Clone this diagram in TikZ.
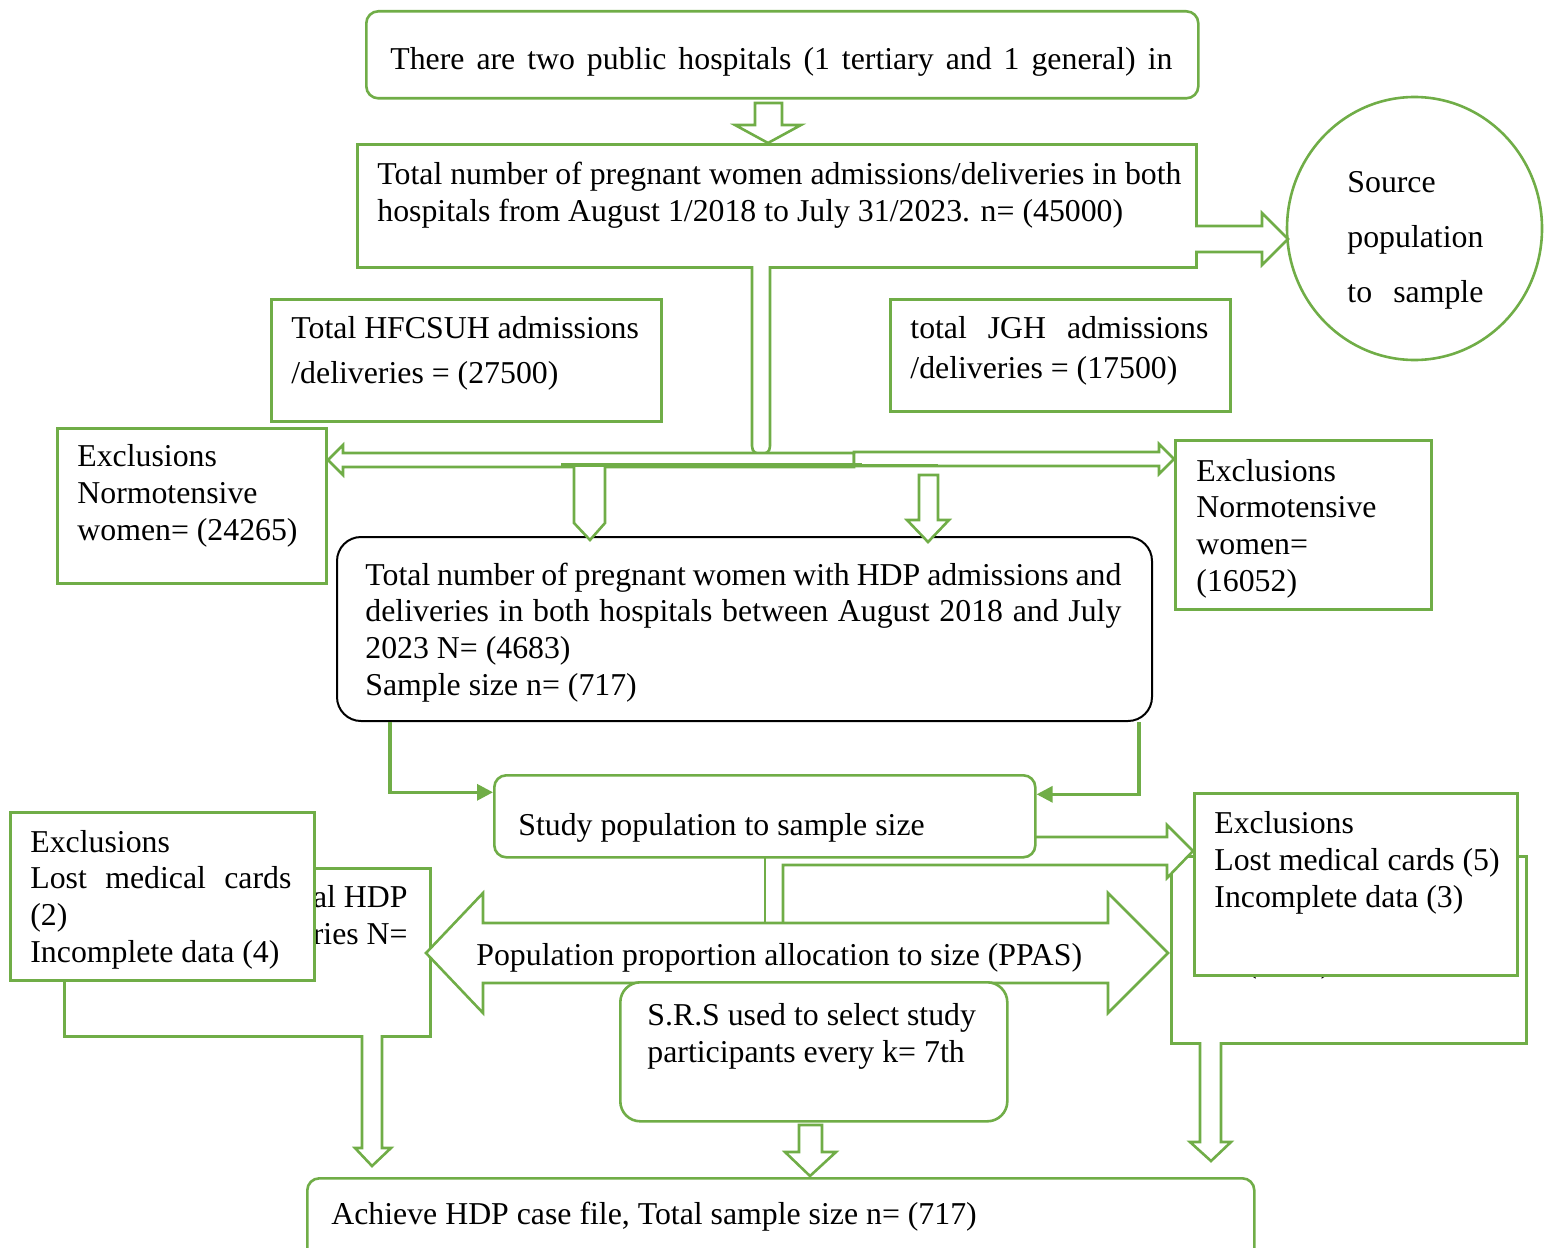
\documentclass[tikz,border=0pt]{standalone}
\usepackage{fontspec}
\setmainfont{Liberation Serif}
\usetikzlibrary{arrows.meta,shapes.geometric}
\definecolor{leaf}{HTML}{70AD47}
\tikzset{
	gbox/.style={draw=leaf, line width=1.3pt, fill=white, inner sep=0pt, anchor=north west},
	txt/.style={anchor=base west, inner sep=0pt, align=left},
	hollow/.style={draw=leaf, line width=1.3pt, fill=white, line join=miter},
	elbow/.style={draw=leaf, line width=1.6pt, -{Triangle[length=8pt,width=8pt]}},
}
\begin{document}
\begin{tikzpicture}[x=0.5pt,y=-0.5pt, font=\fontsize{15.9}{18.3}\selectfont]
	\useasboundingbox (0,0) rectangle (1551,1247);
	\node[gbox, rounded corners=6pt, minimum width=416pt, minimum height=43.5pt] (hosp) at (365,10) {};
	\node[txt] (hosptext) at (390,69) {\makebox[391pt][s]{There are two public hospitals (1 tertiary and 1 general) in}};
	\node[gbox, minimum width=419.5pt, minimum height=61.5pt] (total) at (356,143) {};
	\node[txt] (totaltext) at (377,221) {Total number of pregnant women admissions/deliveries in both\\hospitals from August 1/2018 to July 31/2023. n= (45000)};
	\node[ellipse, draw=leaf, line width=1.3pt, inner sep=0pt, minimum width=127.5pt, minimum height=131.5pt] (source) at (1414.5,228.5) {};
	\node[txt, font=\fontsize{15.9}{27.5}\selectfont] (sourcetext) at (1347,302) {Source\\population\\\makebox[68pt][s]{to sample}};
	\node[gbox, minimum width=195pt, minimum height=61pt] (hfc) at (270,298) {};
	\node[txt] (hfctext) at (291,383) {Total HFCSUH admissions\\[4.2pt]/deliveries = (27500)};
	\node[gbox, minimum width=170pt, minimum height=56pt] (jgh) at (889,298) {};
	\node[txt] (jghtext) at (910,378) {\makebox[149pt][s]{total JGH admissions}\\[1.7pt]/deliveries = (17500)};
	\node[gbox, minimum width=134.5pt, minimum height=77.5pt] (normL) at (56,427) {};
	\node[txt] (normLtext) at (77,540) {Exclusions\\Normotensive\\women= (24265)};
	\node[gbox, minimum width=128pt, minimum height=84.5pt] (normR) at (1174,439) {};
	\node[txt] (normRtext) at (1196,591) {Exclusions\\Normotensive\\women=\\(16052)};
	\node[gbox, draw=black, line width=1pt, rounded corners=12pt, minimum width=407.5pt, minimum height=92pt] (hdp) at (336,536) {};
	\node[txt] (hdptext) at (365,695) {\makebox[378pt][s]{Total number of pregnant women with HDP admissions and}\\\makebox[378pt][s]{deliveries in both hospitals between August 2018 and July}\\2023 N= (4683)\\Sample size n= (717)};
	\draw[hollow] (755,103) -- (782,103) -- (782,125) -- (801,125) -- (768,143) -- (735,125) -- (755,125) -- cycle;
	\draw[hollow] (1195,226) -- (1262,226) -- (1262,213) -- (1288,239) -- (1262,265) -- (1262,252) -- (1195,252);
	\draw[hollow] (752,266) -- (752,446) .. controls (752,452) and (756,454) .. (761,454) .. controls (766,454) and (770,452) .. (770,446) -- (770,266);
	\draw[hollow] (854,453) -- (343,453) -- (343,445) -- (328,460) -- (343,475) -- (343,467) -- (854,467) -- cycle;
	\draw[hollow] (854,452) -- (1159,452) -- (1159,444) -- (1174,459) -- (1159,474) -- (1159,466) -- (854,466) -- cycle;
	\draw[leaf, line width=2pt] (561,465) -- (862,465);
	\draw[leaf, line width=1pt] (862,465) -- (938,465);
	\draw[hollow] (574,467) -- (574,523) -- (590,540) -- (605,523) -- (605,467);
	\draw[hollow] (919,475) -- (938,475) -- (938,520) -- (949,520) -- (928,542) -- (907,520) -- (919,520) -- cycle;
	\node[gbox, minimum width=183pt, minimum height=84pt] (hfchdp) at (63,867) {};
	\node[txt, align=right, anchor=base east] (hfchdptext) at (408,944) {al HDP\\ries N=};
	\node[gbox, minimum width=152pt, minimum height=84pt] (lostL) at (9,811) {};
	\node[txt] (lostLtext) at (30,962) {Exclusions\\\makebox[130.5pt][s]{Lost medical cards}\\(2)\\Incomplete data (4)};
	\node[gbox, minimum width=177.5pt, minimum height=93.5pt] (jghhdp) at (1170,855) {};
	\node[txt] (jghhdpnum) at (1246,972) {(\phantom{0000})};
	\draw[hollow] (765,845) -- (765,923);
	\draw[hollow] (783,923) -- (783,865) -- (1167,865) -- (1167,878) -- (1193,851) -- (1167,825) -- (1167,837) -- (783,837);
	\node[gbox, rounded corners=6pt, minimum width=270.5pt, minimum height=41pt] (study) at (493,774) {};
	\node[txt] (studytext) at (518,835) {Study population to sample size};
	\node[gbox, minimum width=161.5pt, minimum height=91pt] (lostR) at (1193,792) {};
	\node[txt] (lostRtext) at (1214,907) {Exclusions\\Lost medical cards (5)\\Incomplete data (3)};
	\draw[hollow] (426,953) -- (483,893) -- (483,923) -- (1108,923) -- (1108,893) -- (1168,953) -- (1108,1013) -- (1108,983) -- (483,983) -- (483,1013) -- cycle;
	\node[txt] (ppas) at (476,965) {Population proportion allocation to size (PPAS)};
	\node[gbox, rounded corners=10pt, minimum width=193.5pt, minimum height=69.5pt] (srs) at (619,981) {};
	\node[txt] (srstext) at (647,1062) {S.R.S used to select study\\participants every k= 7th};
	\draw[elbow] ([xshift=27pt]hdp.south west) |- ([yshift=12pt]study.west);
	\draw[elbow] ([xshift=-7pt]hdp.south east) |- ([yshift=11pt]study.east);
	\draw[hollow] (362,1035) -- (362,1148) -- (355,1148) -- (372,1166) -- (391,1148) -- (382,1148) -- (382,1035);
	\draw[hollow] (799,1125) -- (822,1125) -- (822,1152) -- (836,1152) -- (810,1176) -- (785,1152) -- (799,1152) -- cycle;
	\draw[hollow] (1200,1042) -- (1200,1142) -- (1190,1142) -- (1211,1161) -- (1231,1142) -- (1221,1142) -- (1221,1042);
	\node[gbox, rounded corners=6pt, minimum width=473.5pt, minimum height=45pt] (achieve) at (306,1177) {};
	\node[txt] (achievetext) at (331,1224) {Achieve HDP case file, Total sample size n= (717)};
\end{tikzpicture}
\end{document}
